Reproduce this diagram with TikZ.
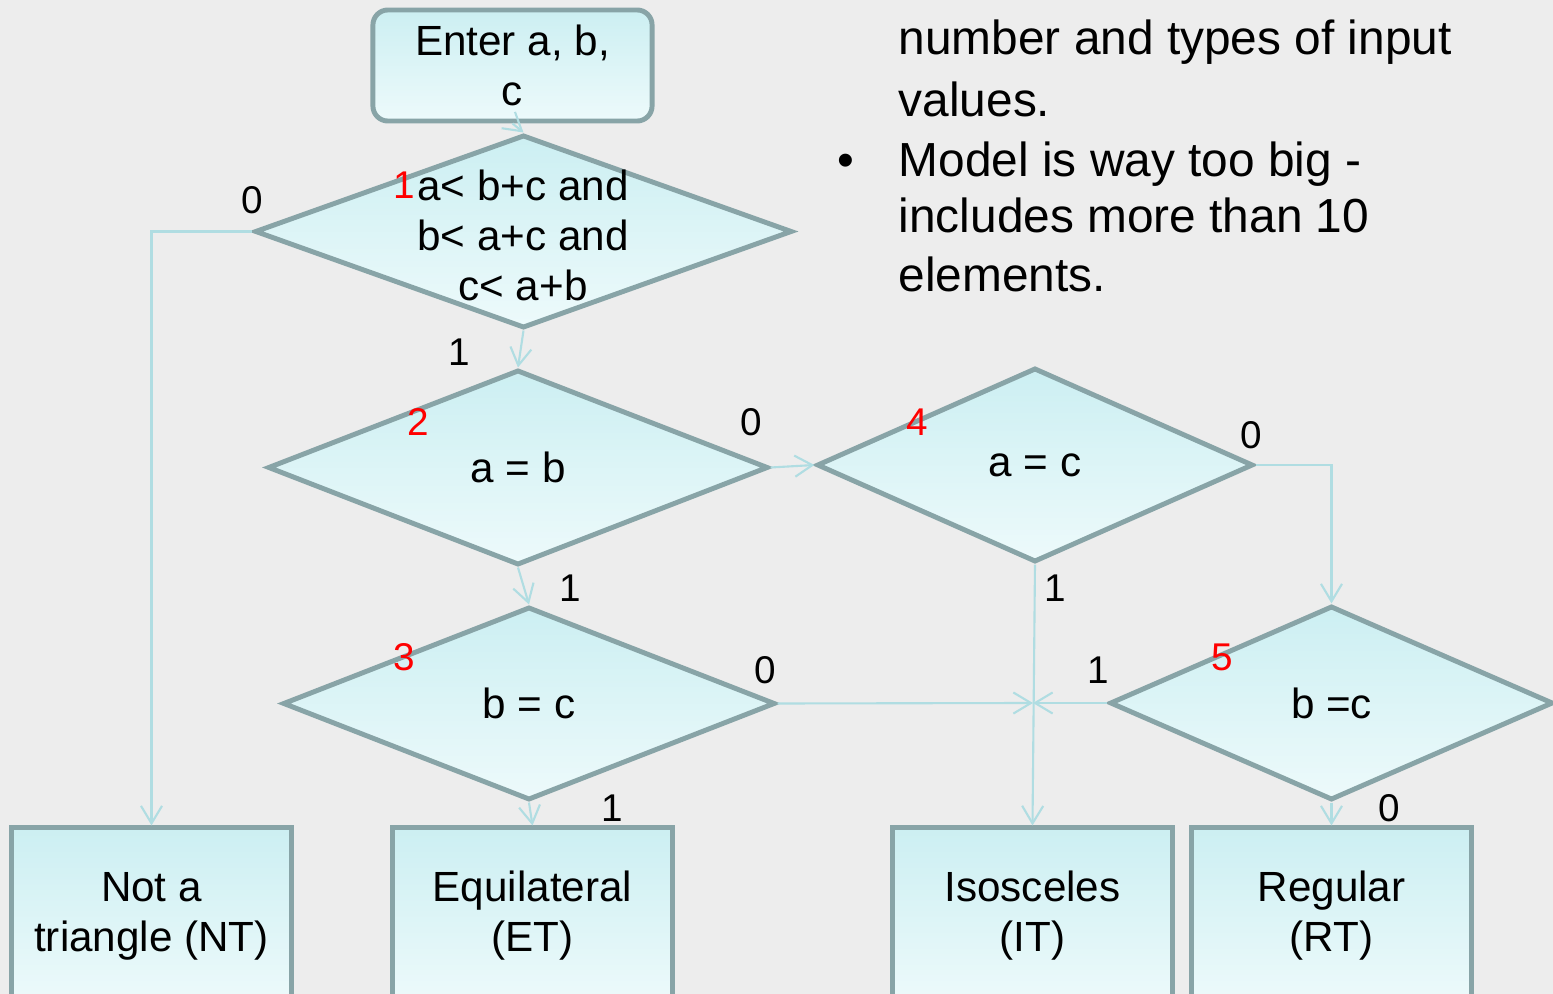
\documentclass[tikz,border=0pt]{standalone}
\usepackage{fontspec}
\setmainfont{Liberation Sans}
\usepackage{tikz}
\usetikzlibrary{arrows.meta}
\usetikzlibrary{positioning}
\usetikzlibrary{shapes.geometric}

\definecolor{bg}{RGB}{237,237,237}
\definecolor{boxtop}{RGB}{204,239,242}
\definecolor{boxbot}{RGB}{237,250,251}
\definecolor{edge}{RGB}{136,164,167}
\definecolor{flow}{RGB}{176,221,226}

\tikzset{
  block/.style={draw=edge, line width=1.4pt, top color=boxtop, bottom color=boxbot,
    align=center, font=\fontsize{12pt}{14.2pt}\selectfont},
  startbox/.style={block, rounded corners=0.15cm, minimum width=2.79cm, minimum height=1.11cm},
  outbox/.style={block, minimum width=2.79cm, minimum height=1.76cm},
  decision/.style={block, diamond, inner sep=1pt},
  flowline/.style={draw=flow, line width=0.6pt, -{Straight Barb[length=5pt,width=6pt]}},
  lbl/.style={inner sep=0pt, font=\fontsize{11pt}{13pt}\selectfont},
  num/.style={lbl, text=red},
  txt/.style={inner sep=0pt, align=center, font=\fontsize{12pt}{14.2pt}\selectfont},
  note/.style={inner sep=0pt, anchor=base west, font=\fontsize{13.6pt}{16.5pt}\selectfont}
}

\begin{document}
\begin{tikzpicture}[x=0.01cm, y=-0.01cm]
  % 背景
  \fill[bg] (0,0) rectangle (1553,994);
  \useasboundingbox (0,0) rectangle (1553,994);

  % 开始
  \node[startbox] (enter) at (512.5,65.5) {Enter a, b,\\c};

  % 判断
  \node[decision, minimum width=5.37cm, minimum height=1.93cm] (d1) at (523.5,231.5) {};
  \node[txt] (t1) at (523,235) {a< b+c and\\b< a+c and\\c< a+b};
  \node[decision, minimum width=5.00cm, minimum height=1.95cm] (d2) at (518,467.5) {a = b};
  \node[decision, minimum width=4.92cm, minimum height=1.93cm] (d3) at (529,703.5) {b = c};
  \node[decision, minimum width=4.36cm, minimum height=1.94cm] (d4) at (1035,465) {a = c};
  \node[decision, minimum width=4.43cm, minimum height=1.94cm] (d5) at (1331.5,703) {b =c};

  % 结果
  \node[outbox] (nt) at (151.5,916) {Not a\\triangle (NT)};
  \node[outbox] (et) at (532.5,916) {Equilateral\\(ET)};
  \node[outbox] (it) at (1032.5,916) {Isosceles\\(IT)};
  \node[outbox] (rt) at (1331.5,916) {Regular\\(RT)};

  % 连线
  \coordinate (join) at (1033,703);
  \draw[flowline] (enter.south) -- (d1.north);
  \draw[flowline] (d1.west) -| (nt.north);
  \draw[flowline] (d1.south) -- (d2.north);
  \draw[flowline] (d2.east) -- (d4.west);
  \draw[flowline] (d2.south) -- (d3.north);
  \draw[flowline] (d3.south) -- (et.north);
  \draw[flowline] (d3.east) -- (join);
  \draw[flowline] (d5.west) -- (join);
  \draw[flowline] (d4.south) -- (it.north);
  \draw[flowline] (d4.east) -| (d5.north);
  \draw[flowline] (d5.south) -- (rt.north);

  % 分支标记
  \node[lbl] (o1) at (252,200) {0};
  \node[lbl] (i1) at (459,352) {1};
  \node[lbl] (o2) at (751,422) {0};
  \node[lbl] (i2) at (570,588) {1};
  \node[lbl] (o3) at (765,670) {0};
  \node[lbl] (i3) at (612,808) {1};
  \node[lbl] (i4) at (1055,588) {1};
  \node[lbl] (o4) at (1251,435) {0};
  \node[lbl] (i5) at (1098,670) {1};
  \node[lbl] (o5) at (1389,808) {0};

  % 红色编号
  \node[num] (n1) at (404,185) {1};
  \node[num] (n2) at (418,422) {2};
  \node[num] (n3) at (404,657) {3};
  \node[num] (n4) at (917,422) {4};
  \node[num] (n5) at (1222,657) {5};

  % 说明文字
  \node[note] (r1) at (898,55) {number and types of input};
  \node[note] (r2) at (898,117) {values.};
  \node[note] (dot) at (837,177) {•};
  \node[note] (r3) at (898,177) {Model is way too big -};
  \node[note] (r4) at (898,233) {includes more than 10};
  \node[note] (r5) at (898,292) {elements.};
\end{tikzpicture}
\end{document}
